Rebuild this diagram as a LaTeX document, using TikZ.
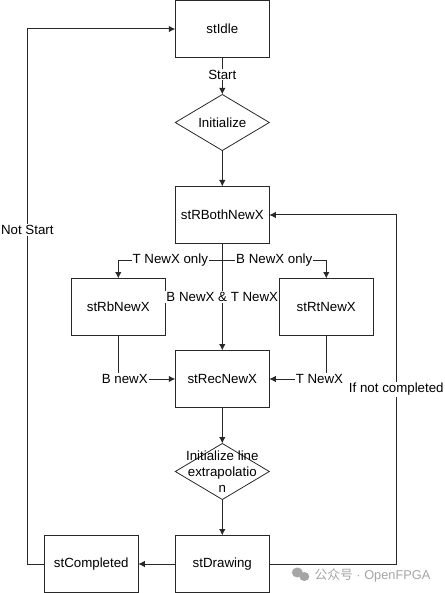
\documentclass[tikz,border=0pt]{standalone}
\usepackage{fontspec}
\setmainfont{Liberation Sans}
\newfontfamily\cjkfont{Noto Sans CJK SC}
\definecolor{linegray}{RGB}{40,40,40}
\definecolor{markgray}{RGB}{165,165,165}
\usetikzlibrary{arrows.meta,positioning,shapes.geometric}
\tikzset{
    statebox/.style={draw=linegray, line width=1pt, minimum width=94pt, minimum height=57pt, inner sep=0pt, outer sep=0pt},
    decisionbox/.style={draw=linegray, line width=0.8pt, diamond, aspect=1.68, minimum width=94pt, minimum height=56pt, inner sep=0pt, outer sep=0pt},
    decisiontext/.style={align=center, font=\fontsize{13.3}{16}\selectfont, inner sep=0pt},
    flowarrow/.style={-{Latex[length=6.5pt, width=6.5pt]}, draw=linegray, line width=1pt},
    flowlabel/.style={fill=white, inner sep=1pt, font=\fontsize{13.3}{16}\selectfont}
}

\begin{document}
\begin{tikzpicture}[font=\fontsize{13.3}{16}\selectfont]
    \useasboundingbox (-222.3pt,29pt) rectangle (221.7pt,-564pt);

    \node[statebox] (idle) {stIdle};
    \node[decisionbox, below=37pt of idle, label={[decisiontext]center:Initialize}] (init) {};
    \node[statebox, below=36pt of init] (both) {stRBothNewX};
    \node[statebox, below left=35pt and 10pt of both] (rb) {stRbNewX};
    \node[statebox, below right=35pt and 10pt of both] (rt) {stRtNewX};
    \node[statebox, below=107pt of both] (rec) {stRecNewX};
    \node[decisionbox, below=36pt of rec, label={[decisiontext]center:Initialize line\\extrapolatio\\n}] (lineinit) {};
    \node[statebox, below=36pt of lineinit] (drawing) {stDrawing};
    \node[statebox, left=37pt of drawing] (completed) {stCompleted};

    \coordinate[below=17pt of both] (split);
    \coordinate[right=127pt of drawing.east] (retright);
    \coordinate[left=17pt of completed.west] (retleft);

    \draw[flowarrow] (idle) -- node[flowlabel, pos=0.46] {Start} (init);
    \draw[flowarrow] (init) -- (both);
    \draw[flowarrow] (both) -- node[flowlabel, pos=0.5] {B NewX \& T NewX} (rec);
    \draw[flowarrow] (split) -| node[flowlabel, pos=0.25] {T NewX only} (rb.north);
    \draw[flowarrow] (split) -| node[flowlabel, pos=0.25] {B NewX only} (rt.north);
    \draw[flowarrow] (rb.south) |- node[flowlabel, pos=0.557] {B newX} (rec.west);
    \draw[flowarrow] (rt.south) |- node[flowlabel, pos=0.56] {T NewX} (rec.east);
    \draw[flowarrow] (rec) -- (lineinit);
    \draw[flowarrow] (lineinit) -- (drawing);
    \draw[flowarrow] (drawing) -- (completed);
    \draw[flowarrow] (drawing.east) -- (retright) |- node[flowlabel, pos=0.25] {If not completed} (both.east);
    \draw[flowarrow] (completed.west) -- (retleft) |- node[flowlabel, pos=0.312] {Not Start} (idle.west);

    % watermark
    \node[text=markgray, inner sep=0pt, anchor=west, font=\fontsize{12.8}{15}\selectfont] (watermark) at (92pt,-546pt) {{\cjkfont 公众号} · OpenFPGA};
    \fill[markgray] (75pt,-543.5pt) ellipse (5.5pt and 5pt);
    \fill[markgray] (82pt,-547.5pt) ellipse (5pt and 4.5pt);
\end{tikzpicture}
\end{document}
